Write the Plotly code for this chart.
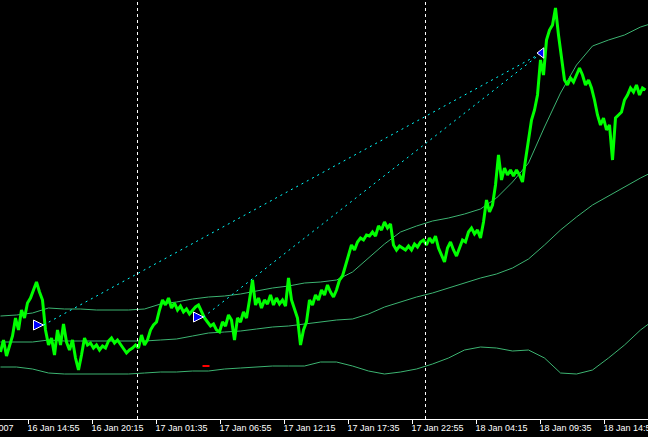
import pandas as pd
import plotly.graph_objects as go

# M5 chart, first visible bar
T0 = pd.Timestamp("2007-01-16 12:35")
N_BARS = 648

# close price, one value every 15 minutes from T0
close_prices = [
    1.2927, 1.2939, 1.2923, 1.2934, 1.2943, 1.2961, 1.2949, 1.2969, 1.2961, 1.2976,
    1.2981, 1.2989, 1.2997, 1.2987, 1.2979, 1.2949, 1.2934, 1.2941, 1.2924, 1.2949,
    1.2934, 1.2955, 1.2937, 1.2929, 1.2939, 1.2921, 1.2909, 1.2924, 1.2941, 1.2934,
    1.2936, 1.2931, 1.2934, 1.2929, 1.2933, 1.2931, 1.2938, 1.2941, 1.2936, 1.2939,
    1.2935, 1.2931, 1.2926, 1.2929, 1.2931, 1.2934, 1.2931, 1.2944, 1.2934, 1.2939,
    1.2949, 1.2954, 1.2957, 1.2969, 1.2979, 1.2974, 1.2981, 1.2971, 1.2976, 1.2969,
    1.2973, 1.2967, 1.2970, 1.2965, 1.2969, 1.2972, 1.2974, 1.2967, 1.2961, 1.2957,
    1.2953, 1.2955, 1.2949, 1.2947, 1.2957, 1.2953, 1.2964, 1.2959, 1.2939, 1.2961,
    1.2957, 1.2967, 1.2961, 1.2979, 1.2999, 1.2974, 1.2981, 1.2971, 1.2979, 1.2975,
    1.2984, 1.2974, 1.2981, 1.2975, 1.2979, 1.2973, 1.3001, 1.2979, 1.2971, 1.2961,
    1.2934, 1.2949, 1.2957, 1.2979, 1.2974, 1.2984, 1.2979, 1.2989, 1.2984, 1.2994,
    1.2987, 1.2982, 1.2989, 1.2999, 1.3003, 1.3014, 1.3024, 1.3034, 1.3029, 1.3037,
    1.3041, 1.3039, 1.3044, 1.3043, 1.3047, 1.3043, 1.3053, 1.3049, 1.3057, 1.3051,
    1.3055, 1.3034, 1.3029, 1.3033, 1.3031, 1.3029, 1.3033, 1.3029, 1.3035, 1.3032,
    1.3037, 1.3039, 1.3034, 1.3041, 1.3036, 1.3043, 1.3031, 1.3023, 1.3017, 1.3031,
    1.3037, 1.3029, 1.3023, 1.3031, 1.3039, 1.3037, 1.3047, 1.3051, 1.3045, 1.3049,
    1.3041, 1.3057, 1.3079, 1.3067, 1.3074, 1.3094, 1.3124, 1.3099, 1.3111, 1.3104,
    1.3109, 1.3103, 1.3109, 1.3104, 1.3097, 1.3119, 1.3139, 1.3159, 1.3169, 1.3184,
    1.3219, 1.3204, 1.3239, 1.3249, 1.3254, 1.3271, 1.3244, 1.3219, 1.3199, 1.3194,
    1.3201, 1.3197, 1.3204, 1.3211, 1.3204, 1.3194, 1.3199, 1.3191, 1.3179, 1.3164,
    1.3154, 1.3161, 1.3149, 1.3154, 1.3119, 1.3161, 1.3164, 1.3167, 1.3179, 1.3184,
    1.3191, 1.3187, 1.3194, 1.3184, 1.3191, 1.3189,
]

# band indicator, one value every 80 minutes from T0
upper_band = [
    1.2963, 1.2964, 1.2966, 1.2971, 1.2970, 1.2970, 1.2969, 1.2969, 1.2969, 1.2970,
    1.2975, 1.2977, 1.2980, 1.2982, 1.2983, 1.2985, 1.2988, 1.2991, 1.2993, 1.2996,
    1.2997, 1.2999, 1.3007, 1.3021, 1.3035, 1.3047, 1.3053, 1.3058, 1.3061, 1.3065,
    1.3070, 1.3081, 1.3097, 1.3116, 1.3152, 1.3186, 1.3214, 1.3233, 1.3239, 1.3244,
    1.3252, 1.3257,
]
middle_band = [
    1.2937, 1.2937, 1.2937, 1.2939, 1.2938, 1.2938, 1.2938, 1.2938, 1.2938, 1.2938,
    1.2939, 1.2940, 1.2943, 1.2946, 1.2947, 1.2948, 1.2950, 1.2952, 1.2953, 1.2955,
    1.2957, 1.2959, 1.2960, 1.2965, 1.2972, 1.2977, 1.2982, 1.2986, 1.2991, 1.2996,
    1.3001, 1.3005, 1.3011, 1.3020, 1.3034, 1.3049, 1.3062, 1.3074, 1.3083, 1.3092,
    1.3101, 1.3109,
]
lower_band = [
    1.2912, 1.2912, 1.2910, 1.2906, 1.2905, 1.2905, 1.2905, 1.2905, 1.2905, 1.2906,
    1.2907, 1.2907, 1.2908, 1.2908, 1.2910, 1.2911, 1.2912, 1.2913, 1.2913, 1.2913,
    1.2917, 1.2917, 1.2913, 1.2908, 1.2905, 1.2907, 1.2910, 1.2915, 1.2921, 1.2929,
    1.2932, 1.2931, 1.2928, 1.2929, 1.2921, 1.2906, 1.2905, 1.2909, 1.2921, 1.2934,
    1.2949, 1.2961,
]

# trades
open_times = ["2007-01-16 16:10", "2007-01-17 05:30"]
open_prices = [1.2954, 1.2962]
close_times = ["2007-01-18 09:40", "2007-01-18 09:40"]
close_prices_trade = [1.3226, 1.3226]

stop_times = ["2007-01-17 05:25", "2007-01-17 06:00"]
stop_price = 1.2913

day_separators = ["2007-01-17 00:00", "2007-01-18 00:00"]

tick_start = "2007-01-16 14:55"
tick_step_min = 320
first_label = "16 Jan 2007"
first_label_time = "2007-01-16 09:35"

y_range = [1.2860, 1.3279]

x_close = pd.date_range(T0, periods=len(close_prices), freq="15min")
x_band = pd.date_range(T0, periods=len(upper_band), freq="80min")

x0 = T0 - pd.Timedelta(minutes=2.5)
x1 = x0 + pd.Timedelta(minutes=5 * N_BARS)

fig = go.Figure()

for band in [upper_band, middle_band, lower_band]:
    fig.add_trace(
        go.Scatter(
            x=x_band, y=band, mode="lines",
            line=dict(color="#3CB371", width=1),
            hoverinfo="skip",
        )
    )

fig.add_trace(
    go.Scatter(
        x=x_close, y=close_prices, mode="lines",
        line=dict(color="#00FF00", width=3),
    )
)

for ot, op, ct, cp in zip(open_times, open_prices, close_times, close_prices_trade):
    fig.add_trace(
        go.Scatter(
            x=[ot, ct], y=[op, cp], mode="lines",
            line=dict(color="#00FFFF", width=1, dash="2px,4px"),
        )
    )

fig.add_trace(
    go.Scatter(
        x=stop_times, y=[stop_price, stop_price], mode="lines",
        line=dict(color="#FF0000", width=2),
    )
)

fig.add_trace(
    go.Scatter(
        x=open_times, y=open_prices, mode="markers",
        marker=dict(symbol="arrow-right", size=10, color="#0000FF",
                    line=dict(color="white", width=1)),
    )
)
fig.add_trace(
    go.Scatter(
        x=[close_times[0]], y=[close_prices_trade[0]], mode="markers",
        marker=dict(symbol="triangle-left", size=9, color="#0000FF",
                    line=dict(color="white", width=1)),
    )
)

for t in day_separators:
    fig.add_shape(
        type="line", xref="x", yref="paper", x0=t, x1=t, y0=0, y1=1,
        line=dict(color="white", width=1, dash="3px,3px"),
    )

label_frac = (pd.Timestamp(first_label_time) - x0) / (x1 - x0)
fig.add_annotation(
    x=label_frac, xref="paper", y=-0.005, yref="paper", xshift=-3,
    text=first_label, showarrow=False, xanchor="left", yanchor="top",
    font=dict(color="white", size=9, family="Liberation Sans"),
)

fig.update_layout(
    width=648, height=437,
    margin={"r": 0, "t": 0, "l": 0, "b": 18, "autoexpand": False},
    paper_bgcolor="black", plot_bgcolor="black",
    showlegend=False,
    font=dict(color="white", size=9, family="Liberation Sans"),
)
fig.update_xaxes(
    range=[x0, x1],
    tick0=tick_start, dtick=tick_step_min * 60 * 1000,
    tickformat="%d %b %H:%M",
    ticklabelposition="outside right",
    ticklabeloverflow="allow",
    ticklabelshift=-2,
    ticks="outside", ticklen=4, tickcolor="white",
    showline=True, linecolor="white", linewidth=1,
    showgrid=False, zeroline=False, automargin=False,
)
fig.update_yaxes(range=y_range, visible=False, showgrid=False, zeroline=False)

fig.write_html(
    "out.html",
    config={"displayModeBar": False},
    post_script="document.body.style.margin='0';document.body.style.background='black';",
)
